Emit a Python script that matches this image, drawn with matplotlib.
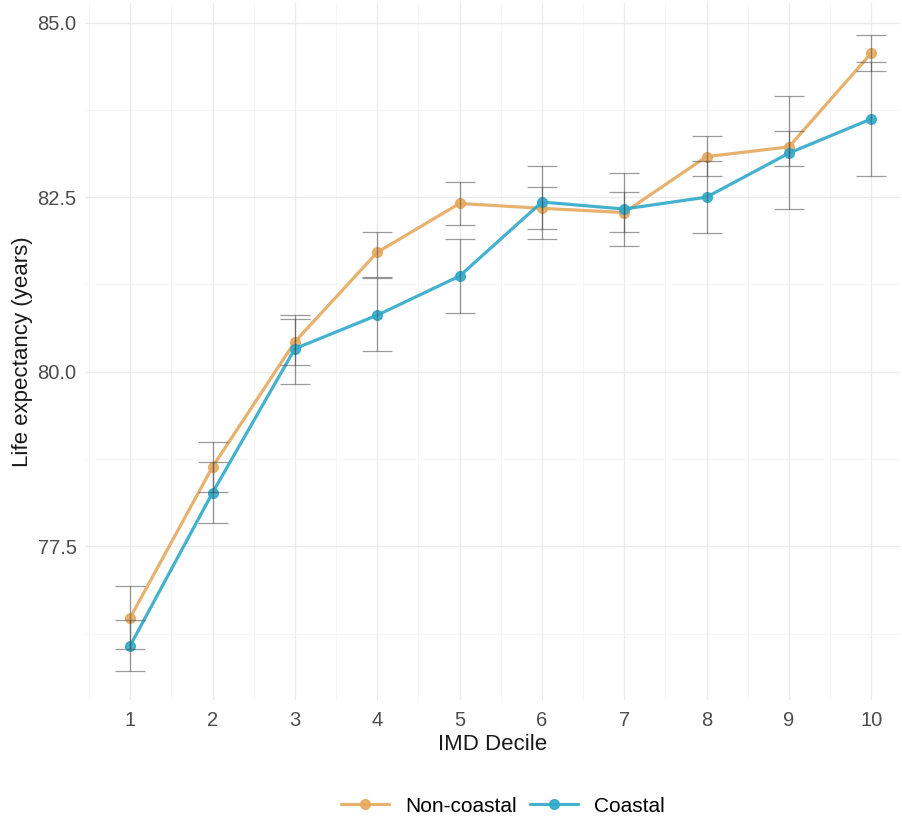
import matplotlib
matplotlib.use("Agg")
import matplotlib.pyplot as plt
import numpy as np

plt.rcParams["font.family"] = ["Liberation Sans", "DejaVu Sans"]

deciles = [1, 2, 3, 4, 5, 6, 7, 8, 9, 10]

noncoastal_mean = [76.48, 78.64, 80.43, 81.71, 82.41, 82.34, 82.28, 83.08, 83.22, 84.56]
noncoastal_lo   = [76.03, 78.28, 80.10, 81.36, 82.10, 82.04, 82.00, 82.81, 82.94, 84.31]
noncoastal_hi   = [76.93, 79.00, 80.81, 82.00, 82.71, 82.64, 82.57, 83.38, 83.45, 84.82]

coastal_mean = [76.08, 78.27, 80.33, 80.81, 81.37, 82.43, 82.33, 82.50, 83.13, 83.62]
coastal_lo   = [75.72, 77.83, 79.83, 80.30, 80.84, 81.90, 81.80, 81.98, 82.33, 82.80]
coastal_hi   = [76.44, 78.71, 80.76, 81.34, 81.90, 82.94, 82.85, 83.02, 83.95, 84.44]

series_names = ["Non-coastal", "Coastal"]
series_colors = ["#E5A95E", "#30A9C9"]

y_ticks = [77.5, 80.0, 82.5, 85.0]

W, H = 902, 819
fig = plt.figure(figsize=(W / 100, H / 100), dpi=100)
L, R, T, B = 85, 900, 3, 700
ax = fig.add_axes([L / W, 1 - B / H, (R - L) / W, (B - T) / H])

x = np.array(deciles)
series = [
    (noncoastal_mean, noncoastal_lo, noncoastal_hi),
    (coastal_mean, coastal_lo, coastal_hi),
]
handles = []
for (m, lo, hi), name, col in zip(series, series_names, series_colors):
    m = np.array(m)
    h, = ax.plot(x, m, color=col, lw=2.3, marker="o", ms=7, label=name,
                 alpha=0.9, zorder=3, solid_capstyle="round")
    handles.append(h)
for (m, lo, hi) in series:
    m = np.array(m); lo = np.array(lo); hi = np.array(hi)
    ax.errorbar(x, m, yerr=[m - lo, hi - m], fmt="none", ecolor="#4A4A4A",
                elinewidth=0.9, capsize=11, capthick=0.9, alpha=0.55, zorder=4)

ax.set_xlim(0.45, 10.35)
ax.set_ylim(75.3, 85.28)
ax.set_xticks(deciles)
ax.set_xticks(np.arange(0.5, 10.5, 1.0), minor=True)
ax.set_yticks(y_ticks)
ax.set_yticks([76.25, 78.75, 81.25, 83.75], minor=True)
ax.set_yticklabels([f"{v:.1f}" for v in y_ticks])

ax.grid(True, which="major", color="#EBEBEB", lw=1.0)
ax.grid(True, which="minor", color="#F5F5F5", lw=0.6)
ax.set_axisbelow(True)
for s in ax.spines.values():
    s.set_visible(False)
ax.tick_params(which="both", length=0, labelsize=14.5, colors="#4D4D4D")
ax.tick_params(axis="y", pad=6)
ax.tick_params(axis="x", pad=8)

ax.set_xlabel("IMD Decile", fontsize=16, color="#1A1A1A", labelpad=3)
ax.set_ylabel("Life expectancy (years)", fontsize=16, color="#1A1A1A", labelpad=3)

fig.legend(handles=handles, labels=series_names, loc="center",
           bbox_to_anchor=(503 / W, 1 - 806 / H), ncol=2, frameon=False,
           fontsize=15, handlelength=2.3, columnspacing=0.6, handletextpad=0.8)

fig.savefig("out.png", dpi=100, facecolor="white")
